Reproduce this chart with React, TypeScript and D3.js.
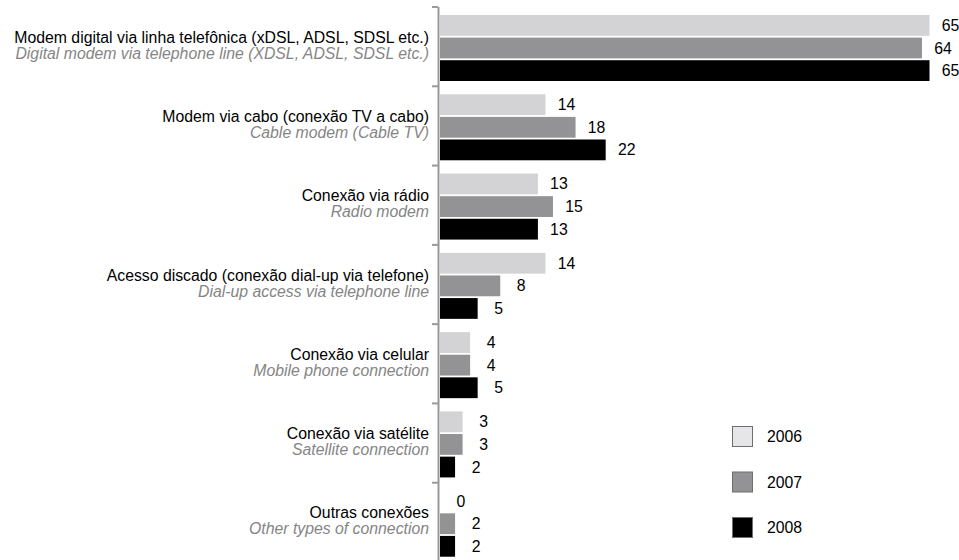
import * as d3 from "d3";

const width = 959;
const height = 560;

const labelsPt = [
  "Modem digital via linha telefônica (xDSL, ADSL, SDSL etc.)",
  "Modem via cabo (conexão TV a cabo)",
  "Conexão via rádio",
  "Acesso discado (conexão dial-up via telefone)",
  "Conexão via celular",
  "Conexão via satélite",
  "Outras conexões",
];
const labelsEn = [
  "Digital modem via telephone line (XDSL, ADSL, SDSL etc.)",
  "Cable modem (Cable TV)",
  "Radio modem",
  "Dial-up access via telephone line",
  "Mobile phone connection",
  "Satellite connection",
  "Other types of connection",
];
const years = ["2006", "2007", "2008"];
const v2006 = [65, 14, 13, 14, 4, 3, 0];
const v2007 = [64, 18, 15, 8, 4, 3, 2];
const v2008 = [65, 22, 13, 5, 5, 2, 2];
const series = [v2006, v2007, v2008];

const barColors = ["#d3d3d5", "#939396", "#000000"];
const legendColors = ["#e6e6e8", "#939396", "#000000"];

const font = "'Liberation Sans', Arial, sans-serif";

const App = () => {
  const y = d3.scaleBand<number>().domain(d3.range(labelsPt.length)).range([7, 562]);
  const inner = d3.scaleBand<number>().domain([0, 1, 2]).range([8, 74]).paddingInner(0.08);
  const x = d3.scaleLinear([0, 65], [440, 929.5]);
  const legendY = d3.scalePoint<string>().domain(years).range([426, 517]);

  return (
    <svg width={width} height={height} style={{ position: "absolute", left: 0, top: 0 }} fontFamily={font}>
      {labelsPt.map((lab, i) => {
        const c = (y(i) as number) + y.bandwidth() / 2;
        return (
          <g key={i}>
            <text x={429} y={c - 4} textAnchor="end" fontSize={15.8} fill="#000">
              {lab}
            </text>
            <text x={429} y={c + 12} textAnchor="end" fontSize={15.8} fontStyle="italic" fill="#858585">
              {labelsEn[i]}
            </text>
            {series.map((s, k) => {
              const by = (y(i) as number) + (inner(k) as number);
              return (
                <g key={k}>
                  <rect x={x(0)} y={by} width={x(s[i]) - x(0)} height={inner.bandwidth()} fill={barColors[k]} />
                  <text
                    x={x(s[i]) + 21}
                    y={by + inner.bandwidth() / 2 + 5.5}
                    textAnchor="middle"
                    fontSize={15.8}
                    fill="#000"
                  >
                    {s[i]}
                  </text>
                </g>
              );
            })}
          </g>
        );
      })}
      <line x1={438.5} x2={438.5} y1={7} y2={560} stroke="#9a9a9a" strokeWidth={2} />
      {d3.range(labelsPt.length + 1).map((i) => {
        const ty = i < labelsPt.length ? (y(i) as number) : 562;
        return <line key={i} x1={432} x2={438} y1={ty} y2={ty} stroke="#9a9a9a" strokeWidth={2} />;
      })}
      {years.map((yr, k) => (
        <g key={yr}>
          <rect
            x={732.5}
            y={(legendY(yr) as number) + 0.5}
            width={20}
            height={20}
            fill={legendColors[k]}
            stroke="#6e6e6e"
            strokeWidth={1}
          />
          <text x={767} y={(legendY(yr) as number) + 16} fontSize={15.8} fill="#000">
            {yr}
          </text>
        </g>
      ))}
    </svg>
  );
};

export default App;
